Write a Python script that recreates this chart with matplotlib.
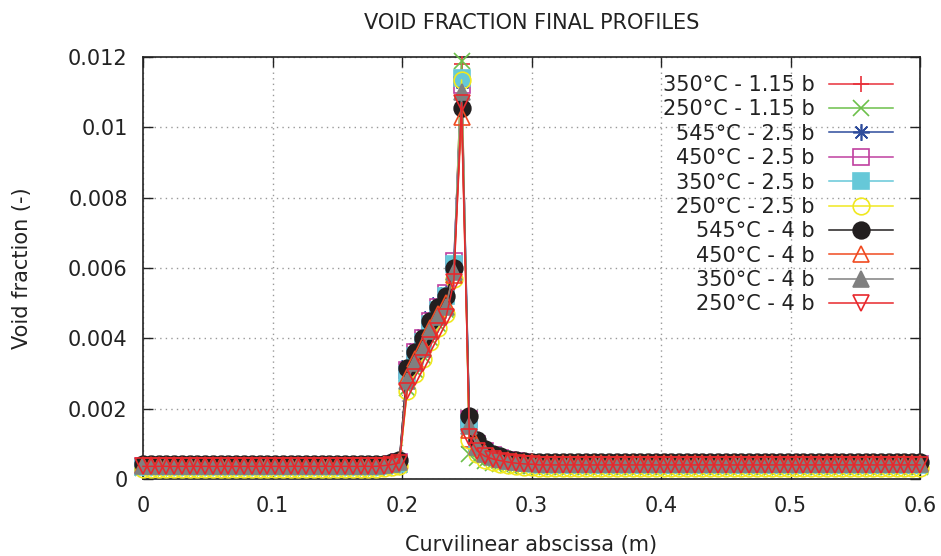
import matplotlib
matplotlib.use("Agg")
import matplotlib.pyplot as plt
import numpy as np

# ---------------- data ----------------
# mesh nodes (m)
x_nodes = [0.000, 0.006, 0.012, 0.018, 0.024, 0.030, 0.036, 0.042, 0.048, 0.054,
           0.060, 0.066, 0.072, 0.078, 0.084, 0.090, 0.096, 0.102, 0.108, 0.114,
           0.120, 0.126, 0.132, 0.138, 0.144, 0.150, 0.156, 0.162, 0.168, 0.174,
           0.180, 0.186, 0.192, 0.198, 0.204, 0.210, 0.216, 0.222, 0.228, 0.234,
           0.240, 0.246, 0.252, 0.258, 0.264, 0.270, 0.276, 0.282, 0.288, 0.294,
           0.300, 0.306, 0.312, 0.318, 0.324, 0.330, 0.336, 0.342, 0.348, 0.354,
           0.360, 0.366, 0.372, 0.378, 0.384, 0.390, 0.396, 0.402, 0.408, 0.414,
           0.420, 0.426, 0.432, 0.438, 0.444, 0.450, 0.456, 0.462, 0.468, 0.474,
           0.480, 0.486, 0.492, 0.498, 0.504, 0.510, 0.516, 0.522, 0.528, 0.534,
           0.540, 0.546, 0.552, 0.558, 0.564, 0.570, 0.576, 0.582, 0.588, 0.594,
           0.600]

labels = ["350°C - 1.15 b", "250°C - 1.15 b", "545°C - 2.5 b", "450°C - 2.5 b",
          "350°C - 2.5 b", "250°C - 2.5 b", "545°C - 4 b", "450°C - 4 b",
          "350°C - 4 b", "250°C - 4 b"]

# flat level upstream of the heated zone (x <= 0.180)
base_left = [0.00036, 0.00030, 0.00040, 0.00037, 0.00034, 0.00028,
             0.00042, 0.00040, 0.00038, 0.00036]
# last upstream nodes 0.186, 0.192, 0.198
edge = [[0.00038, 0.00041, 0.00046], [0.00032, 0.00035, 0.00040],
        [0.00042, 0.00045, 0.00050], [0.00039, 0.00042, 0.00047],
        [0.00036, 0.00039, 0.00044], [0.00030, 0.00033, 0.00038],
        [0.00044, 0.00048, 0.00055], [0.00042, 0.00045, 0.00050],
        [0.00040, 0.00043, 0.00048], [0.00038, 0.00041, 0.00046]]
# nodes 0.204 ... 0.240
rise = [[0.0028, 0.0033, 0.0037, 0.0042, 0.0046, 0.0050, 0.0059],
        [0.0026, 0.0031, 0.0035, 0.0040, 0.0044, 0.0048, 0.0058],
        [0.0032, 0.0037, 0.0041, 0.0046, 0.0050, 0.0053, 0.0061],
        [0.0031, 0.0036, 0.0040, 0.0045, 0.0049, 0.0053, 0.0062],
        [0.0030, 0.0035, 0.0039, 0.0044, 0.0048, 0.0052, 0.0061],
        [0.0025, 0.0030, 0.0034, 0.0039, 0.0043, 0.0047, 0.0057],
        [0.00315, 0.0036, 0.0040, 0.0045, 0.0049, 0.0052, 0.0060],
        [0.0029, 0.0034, 0.0038, 0.0043, 0.0047, 0.0050, 0.0058],
        [0.0028, 0.0033, 0.0037, 0.0042, 0.0046, 0.0049, 0.0059],
        [0.0025, 0.0029, 0.0033, 0.0038, 0.0042, 0.0046, 0.0056]]
# node 0.246
peak = [0.0118, 0.0119, 0.0113, 0.0112, 0.0114, 0.01135,
        0.01055, 0.0103, 0.0110, 0.0107]
# node 0.252
drop = [0.0009, 0.0007, 0.0018, 0.0017, 0.0016, 0.0011,
        0.0018, 0.0014, 0.0015, 0.0012]
# nodes 0.258 ... 0.300
decay = [[0.00070, 0.00060, 0.00055, 0.00050, 0.00047, 0.00045, 0.00044, 0.00043],
         [0.00060, 0.00050, 0.00045, 0.00042, 0.00040, 0.00038, 0.00037, 0.00036],
         [0.00110, 0.00085, 0.00072, 0.00064, 0.00058, 0.00054, 0.00051, 0.00049],
         [0.00100, 0.00080, 0.00068, 0.00060, 0.00055, 0.00051, 0.00048, 0.00046],
         [0.00095, 0.00075, 0.00064, 0.00057, 0.00052, 0.00048, 0.00045, 0.00043],
         [0.00070, 0.00055, 0.00047, 0.00042, 0.00039, 0.00037, 0.00035, 0.00034],
         [0.00110, 0.00085, 0.00072, 0.00064, 0.00058, 0.00054, 0.00051, 0.00049],
         [0.00095, 0.00075, 0.00065, 0.00058, 0.00054, 0.00050, 0.00048, 0.00047],
         [0.00090, 0.00072, 0.00062, 0.00056, 0.00052, 0.00048, 0.00046, 0.00045],
         [0.00080, 0.00065, 0.00057, 0.00052, 0.00048, 0.00045, 0.00043, 0.00042]]
# flat level downstream (x >= 0.306)
base_right = [0.00041, 0.00034, 0.00046, 0.00043, 0.00040, 0.00032,
              0.00047, 0.00045, 0.00043, 0.00040]

colors = ["#e8303a", "#6cc04a", "#2e4c9c", "#c040a0", "#66c8d8",
          "#f0e820", "#231f20", "#f04a20", "#808080", "#e8282c"]
markers = ["+", "x", (8, 2, 0), "s", "s", "o", "o", "^", "^", "v"]
filled = [True, True, True, False, True, False, True, False, True, False]

x = np.array(x_nodes)
n_left = 31                      # nodes 0.000 ... 0.180
n_right = len(x_nodes) - 51      # nodes 0.306 ... 0.600

plt.rcParams['font.family'] = ['DejaVu Sans']
fig = plt.figure(figsize=(9.41, 5.56), dpi=100)
ax = fig.add_axes([143 / 941, 1 - 479 / 556, 777 / 941, 422 / 556])

for i in range(len(labels)):
    y = ([base_left[i]] * n_left + edge[i] + rise[i] + [peak[i], drop[i]]
         + decay[i] + [base_right[i]] * n_right)
    mfc = colors[i] if filled[i] else "none"
    ax.plot(x, y, color=colors[i], lw=1.1, marker=markers[i], markersize=12,
            markerfacecolor=mfc, markeredgecolor=colors[i], markeredgewidth=1.2,
            label=labels[i], clip_on=False, zorder=3 + i)

ax.set_xlim(0, 0.6)
ax.set_ylim(0, 0.012)
xt = [0, 0.1, 0.2, 0.3, 0.4, 0.5, 0.6]
yt = [0, 0.002, 0.004, 0.006, 0.008, 0.01, 0.012]
ax.set_xticks(xt)
ax.set_yticks(yt)
ax.set_xticklabels([f"{v:g}" for v in xt])
ax.set_yticklabels([f"{v:g}" for v in yt])
ax.tick_params(direction="in", length=7, width=1, top=True, right=True,
               labelsize=15, colors="#222222", labelcolor="#222222")
ax.tick_params(axis="x", pad=12)
ax.tick_params(axis="y", pad=11)
ax.grid(True, color="#999999", linestyle=(0, (1, 3)), lw=1)
ax.set_axisbelow(True)
for s in ax.spines.values():
    s.set_linewidth(1.2)
    s.set_color("#222222")

ax.set_title("VOID FRACTION FINAL PROFILES", fontsize=15, color="#222222", pad=20)
ax.set_xlabel("Curvilinear abscissa (m)", fontsize=15, color="#222222", labelpad=14)
ax.set_ylabel("Void fraction (-)", fontsize=15, color="#222222", labelpad=26)

leg = ax.legend(loc="upper right", bbox_to_anchor=(0.9755, 0.977),
                borderaxespad=0, borderpad=0.4, frameon=False, markerfirst=False,
                fontsize=15, handlelength=3.05, handletextpad=0.7,
                labelspacing=0.21)
for t in leg.get_texts():
    t.set_color("#222222")
leg.set_zorder(20)

fig.savefig("out.png", dpi=100)
